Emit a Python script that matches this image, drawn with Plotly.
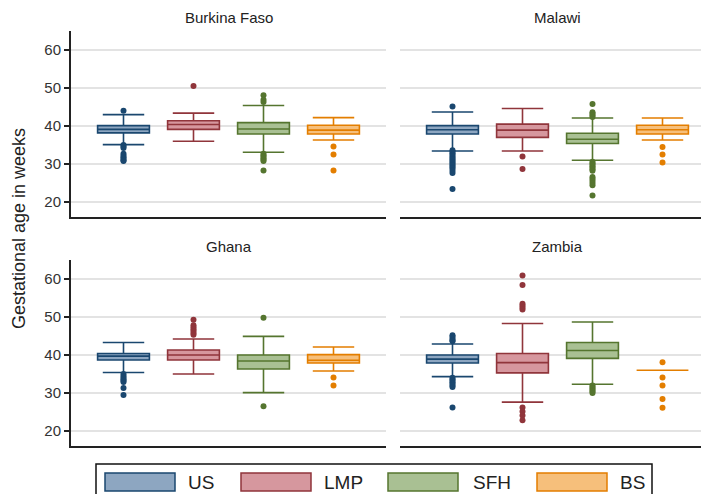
import plotly.graph_objects as go

W, H = 709, 494

countries = ["Burkina Faso", "Malawi", "Ghana", "Zambia"]
methods = ["US", "LMP", "SFH", "BS"]

# per country (BF, Malawi, Ghana, Zambia) -> per method (US, LMP, SFH, BS)
q1 = [[38.2, 39.1, 37.9, 37.9],
      [37.9, 37.0, 35.4, 37.9],
      [38.7, 38.7, 36.3, 37.9],
      [37.9, 35.3, 39.1, 36.0]]
median = [[39.1, 40.4, 39.2, 38.9],
          [39.0, 38.9, 36.5, 39.0],
          [39.7, 40.0, 38.4, 38.6],
          [38.9, 38.0, 41.2, 36.0]]
q3 = [[40.1, 41.4, 40.9, 40.2],
      [40.1, 40.5, 38.1, 40.2],
      [40.4, 41.3, 40.0, 40.1],
      [40.0, 40.4, 43.3, 36.0]]
lowerfence = [[35.1, 36.0, 33.1, 36.3],
              [33.4, 33.4, 31.0, 36.3],
              [35.4, 35.0, 30.1, 35.8],
              [34.3, 27.6, 32.3, 36.0]]
upperfence = [[43.0, 43.4, 45.4, 42.2],
              [43.7, 44.6, 42.1, 42.1],
              [43.3, 44.2, 44.9, 42.1],
              [42.9, 48.3, 48.7, 36.0]]
outliers = [
    [[44.0, 35.0, 34.6, 34.2, 32.7, 32.2, 31.8, 31.4, 31.0, 30.8],
     [50.5],
     [48.1, 46.9, 46.3, 32.7, 32.3, 31.9, 31.5, 31.1, 30.8, 28.3],
     [34.6, 32.5, 28.3]],
    [[45.1, 33.6, 33.2, 32.8, 32.4, 32.0, 31.6, 31.2, 30.8, 30.4, 30.0, 29.6,
      29.2, 28.8, 28.2, 27.6, 23.4],
     [32.0, 28.7],
     [45.8, 43.6, 43.2, 42.8, 42.4, 30.6, 30.2, 29.8, 29.4, 29.0, 28.6, 28.2,
      26.6, 26.1, 25.6, 25.0, 24.4, 21.7],
     [34.5, 32.5, 30.4]],
    [[35.0, 34.5, 34.0, 33.6, 33.2, 32.9, 31.3, 29.5],
     [49.3, 47.8, 47.3, 46.8, 46.3, 45.8, 45.3],
     [49.8, 26.5],
     [34.1, 32.0]],
    [[45.2, 44.8, 44.3, 43.9, 43.6, 34.0, 33.6, 33.2, 32.8, 32.4, 32.0, 31.6, 26.2],
     [60.9, 58.4, 53.5, 53.0, 52.5, 52.0, 26.2, 25.1, 24.1, 22.8],
     [32.0, 31.6, 31.2, 30.8, 30.4, 30.0],
     [38.1, 34.1, 32.0, 28.4, 26.1]],
]

y_ticks = [20, 30, 40, 50, 60]
y_title = "Gestational age in weeks"

line_colors = ["#1a476f", "#90353b", "#55752f", "#e37e00"]
fill_colors = ["#8da6c1", "#d6979e", "#a9c093", "#f6bf7b"]

# panel pixel boxes: (x0, x1, ytop, ybottom)
panels = [(63, 378, 23, 209), (392, 707, 23, 209),
          (63, 378, 252, 438), (392, 707, 252, 438)]
title_y = [10, 10, 238, 238]

fig = go.Figure()
FONT = "Liberation Sans, Arial, sans-serif"
TXT = "#222222"

for ci, country in enumerate(countries):
    xa = "x" if ci == 0 else f"x{ci+1}"
    ya = "y" if ci == 0 else f"y{ci+1}"
    for mi, m in enumerate(methods):
        fig.add_trace(go.Box(
            x=[mi], q1=[q1[ci][mi]], median=[median[ci][mi]], q3=[q3[ci][mi]],
            lowerfence=[lowerfence[ci][mi]], upperfence=[upperfence[ci][mi]],
            boxpoints=False, width=0.74, whiskerwidth=0.8,
            line=dict(color=line_colors[mi], width=1.6),
            fillcolor=fill_colors[mi], xaxis=xa, yaxis=ya,
            showlegend=False, hoverinfo="skip"))
        fig.add_trace(go.Scatter(
            x=[mi] * len(outliers[ci][mi]), y=outliers[ci][mi], mode="markers",
            marker=dict(color=line_colors[mi], size=6, symbol="circle"),
            xaxis=xa, yaxis=ya, showlegend=False, hoverinfo="skip"))

layout = dict(width=W, height=H, margin=dict(l=0, r=0, t=0, b=0),
              paper_bgcolor="white", plot_bgcolor="white", showlegend=False,
              font=dict(family=FONT, color=TXT))
annotations = []
for ci, (x0, x1, yt, yb) in enumerate(panels):
    k = "" if ci == 0 else str(ci + 1)
    left = ci in (0, 2)
    layout["xaxis" + k] = dict(
        domain=[x0 / W, x1 / W], range=[-0.75, 3.75], showticklabels=False,
        showgrid=False, zeroline=False, showline=True, linecolor="#222222",
        linewidth=2, ticks="", anchor="y" + k, fixedrange=True)
    layout["yaxis" + k] = dict(
        domain=[1 - yb / H, 1 - yt / H], range=[16.05, 65], tickvals=y_ticks,
        showgrid=True, gridcolor="#e3e3e3", gridwidth=1.5, zeroline=False,
        showline=left, linecolor="#222222", linewidth=2,
        ticks="outside" if left else "", ticklen=5, tickcolor="#222222",
        tickwidth=1.5, showticklabels=left,
        tickfont=dict(size=15, family=FONT, color="#333333"),
        anchor="x" + k, fixedrange=True)
    annotations.append(dict(
        text=countries[ci], x=(x0 + x1) / 2 / W, y=1 - title_y[ci] / H,
        xref="paper", yref="paper", showarrow=False, xanchor="center",
        yanchor="middle", font=dict(size=15, family=FONT, color=TXT)))

annotations.append(dict(
    text=y_title, x=11 / W, y=1 - 221 / H, xref="paper", yref="paper",
    showarrow=False, textangle=-90, xanchor="center", yanchor="middle",
    font=dict(size=18, family=FONT, color=TXT)))

# manual legend
shapes = [dict(type="rect", xref="paper", yref="paper",
               x0=88 / W, x1=644 / W, y0=1 - 490 / H, y1=1 - 456 / H,
               line=dict(color="#111111", width=1.5), fillcolor="white")]
sw_x = [97, 233, 380, 529]
txt_x = [178, 314, 463, 610]
for mi, m in enumerate(methods):
    shapes.append(dict(type="rect", xref="paper", yref="paper",
                       x0=sw_x[mi] / W, x1=(sw_x[mi] + 70) / W,
                       y0=1 - 483 / H, y1=1 - 465 / H,
                       line=dict(color=line_colors[mi], width=1.5),
                       fillcolor=fill_colors[mi]))
    annotations.append(dict(
        text=m, x=txt_x[mi] / W, y=1 - 474 / H, xref="paper", yref="paper",
        showarrow=False, xanchor="left", yanchor="middle",
        font=dict(size=19, family=FONT, color=TXT)))

layout["annotations"] = annotations
layout["shapes"] = shapes
fig.update_layout(**layout)
fig.write_html("out.html", config={"displayModeBar": False})
